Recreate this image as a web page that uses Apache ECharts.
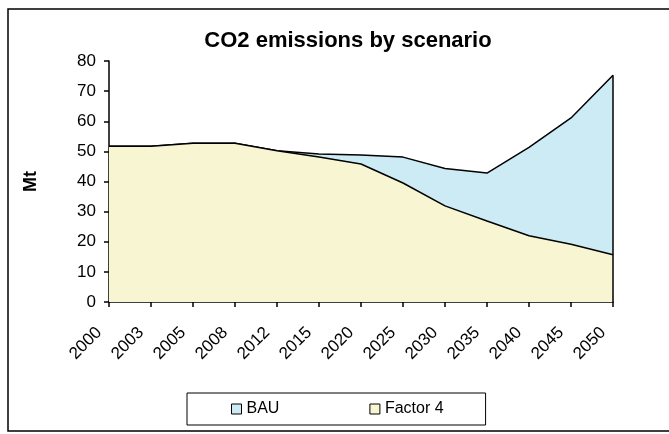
<!DOCTYPE html>
<html>
<head>
<meta charset="UTF-8">
<script src="https://cdn.jsdelivr.net/npm/echarts@6/dist/echarts.min.js"></script>
<title>CO2 emissions by scenario</title>
<style>
  html, body { margin: 0; padding: 0; background: #fff; }
  #chart { width: 669px; height: 434px; }
</style>
</head>
<body>
<div id="chart"></div>
<script type="text/javascript">
    // 数据
    var years = ['2000', '2003', '2005', '2008', '2012', '2015', '2020', '2025', '2030', '2035', '2040', '2045', '2050'];
    var bau = [51.7, 51.7, 52.7, 52.7, 50.2, 49.1, 48.8, 48.1, 44.3, 42.8, 51.3, 61.1, 75.3];
    var factor4 = [51.7, 51.7, 52.7, 52.7, 50.2, 48.1, 45.8, 39.5, 31.9, 26.9, 22.0, 19.2, 15.7];
    var yTicks = [0, 10, 20, 30, 40, 50, 60, 70, 80];

    var font = 'Liberation Sans, Arial, sans-serif';
    var lastYear = years[years.length - 1];

    var myChart = echarts.init(document.getElementById('chart'));
    myChart.setOption({
        animation: false,
        backgroundColor: '#fff',
        graphic: [{
            type: 'rect',
            shape: { x: 8, y: 9, width: 700, height: 422 },
            style: { fill: 'none', stroke: '#000', lineWidth: 1.5 },
            silent: true
        }],
        title: {
            text: 'CO2 emissions by scenario',
            left: 343,
            textAlign: 'center',
            top: 25,
            textStyle: { fontFamily: font, fontSize: 22, fontWeight: 'bold', color: '#000' }
        },
        legend: {
            data: ['BAU', 'Factor 4'],
            left: 187,
            top: 393,
            padding: [8, 42, 8, 44],
            itemGap: 90,
            itemWidth: 10,
            itemHeight: 10,
            itemStyle: { borderColor: '#000', borderWidth: 1 },
            icon: 'rect',
            borderColor: '#000',
            borderWidth: 1,
            textStyle: { fontFamily: font, fontSize: 16, color: '#000' }
        },
        grid: { left: 109, right: 56, top: 61, bottom: 132 },
        xAxis: {
            type: 'category',
            boundaryGap: false,
            data: years,
            axisLine: { lineStyle: { color: '#000', width: 1.5 } },
            axisTick: { show: true, length: 5, lineStyle: { color: '#000', width: 1.5 } },
            axisLabel: { rotate: 45, interval: 0, fontFamily: font, fontSize: 17, color: '#000', margin: 18, padding: [0, 14, 0, 0] },
            splitLine: { show: false }
        },
        yAxis: {
            type: 'value',
            min: yTicks[0],
            max: yTicks[yTicks.length - 1],
            interval: 10,
            name: 'Mt',
            nameLocation: 'middle',
            nameGap: 69,
            nameRotate: 90,
            nameTextStyle: { fontFamily: font, fontSize: 18, fontWeight: 'bold', color: '#000' },
            axisLine: { show: true, lineStyle: { color: '#000', width: 1.5 } },
            axisTick: { show: true, length: 5, lineStyle: { color: '#000', width: 1.5 } },
            axisLabel: { fontFamily: font, fontSize: 17, color: '#000', margin: 13 },
            splitLine: { show: false }
        },
        series: [
            {
                name: 'BAU',
                type: 'line',
                data: bau,
                symbol: 'none',
                lineStyle: { color: '#000', width: 1.5 },
                itemStyle: { color: '#CDEBF4' },
                areaStyle: { color: '#CDEBF4', opacity: 1 },
                markLine: {
                    silent: true,
                    symbol: 'none',
                    label: { show: false },
                    lineStyle: { color: '#000', width: 1.5, type: 'solid' },
                    data: [[{ coord: [lastYear, 0] }, { coord: [lastYear, bau[bau.length - 1]] }]]
                },
                z: 2
            },
            {
                name: 'Factor 4',
                type: 'line',
                data: factor4,
                symbol: 'none',
                lineStyle: { color: '#000', width: 1.5 },
                itemStyle: { color: '#F8F5D3' },
                areaStyle: { color: '#F8F5D3', opacity: 1 },
                z: 3
            }
        ]
    });
</script>
</body>
</html>
